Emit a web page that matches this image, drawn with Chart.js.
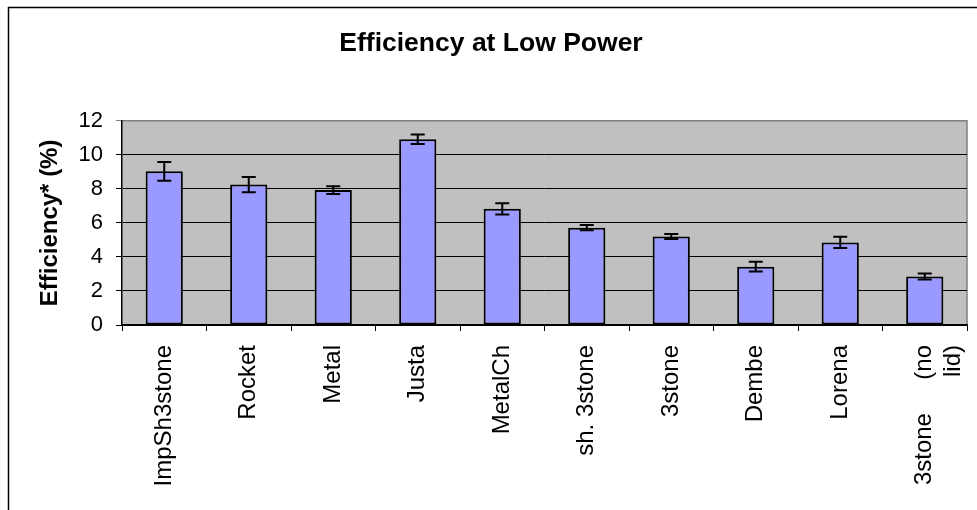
<!DOCTYPE html>
<html>
<head>
<meta charset="utf-8">
<script src="https://cdn.jsdelivr.net/npm/chart.js@4.4.0/dist/chart.umd.min.js"></script>
<style>
    html, body { margin: 0; padding: 0; background: #fff; }
    #wrap { width: 977px; height: 510px; }
</style>
</head>
<body>
<div id="wrap"><canvas id="chart" width="977" height="510"></canvas></div>
<script>
const stoves = ["ImpSh3stone", "Rocket", "Metal", "Justa", "MetalCh", "sh. 3stone", "3stone", "Dembe", "Lorena", ["3stone     (no", "lid)"]];
const efficiency = [9.03, 8.25, 7.93, 10.92, 6.83, 5.72, 5.2, 3.43, 4.85, 2.85];
const errors = [0.55, 0.45, 0.23, 0.28, 0.33, 0.15, 0.15, 0.28, 0.33, 0.17];
const yTicks = [0, 2, 4, 6, 8, 10, 12];

const FONT = "'Liberation Sans', Arial, sans-serif";

// grey plot area + outer frame
const frame = {
    id: "frame",
    beforeDraw(chart) {
        const { ctx, chartArea: a } = chart;
        ctx.save();
        ctx.fillStyle = "#c0c0c0";
        ctx.fillRect(a.left, a.top, a.right - a.left, a.bottom - a.top);
        ctx.strokeStyle = "#808080";
        ctx.lineWidth = 1.5;
        ctx.beginPath();
        ctx.moveTo(a.left, a.top);
        ctx.lineTo(a.right, a.top);
        ctx.lineTo(a.right, a.bottom);
        ctx.stroke();
        ctx.restore();
    },
    afterDraw(chart) {
        const ctx = chart.ctx;
        ctx.save();
        ctx.strokeStyle = "#000";
        ctx.lineWidth = 1.5;
        ctx.strokeRect(8.5, 7.5, 1100, 700);
        ctx.restore();
    }
};

// error bars
const errorBars = {
    id: "errorBars",
    afterDatasetsDraw(chart) {
        const { ctx, scales: { y } } = chart;
        const meta = chart.getDatasetMeta(0);
        ctx.save();
        ctx.strokeStyle = "#000";
        ctx.lineWidth = 2;
        meta.data.forEach((bar, i) => {
            const hi = y.getPixelForValue(efficiency[i] + errors[i]);
            const lo = y.getPixelForValue(efficiency[i] - errors[i]);
            const x = bar.x;
            ctx.beginPath();
            ctx.moveTo(x, hi); ctx.lineTo(x, lo);
            ctx.moveTo(x - 7, hi); ctx.lineTo(x + 7, hi);
            ctx.moveTo(x - 7, lo); ctx.lineTo(x + 7, lo);
            ctx.stroke();
        });
        ctx.restore();
    }
};

const ctx = document.querySelector("#chart").getContext("2d");
const chart = new Chart(ctx, {
    type: "bar",
    data: {
        labels: stoves,
        datasets: [{
            data: efficiency,
            backgroundColor: "#9999ff",
            borderColor: "#000",
            borderWidth: 2,
            borderSkipped: false,
            categoryPercentage: 1,
            barPercentage: 0.44,
        }]
    },
    options: {
        responsive: false,
        animation: false,
        layout: { padding: { left: 5, right: 0, top: 0, bottom: 0 } },
        plugins: {
            legend: { display: false },
            tooltip: { enabled: false },
            title: {
                display: true,
                text: "Efficiency at Low Power",
                color: "#000",
                font: { family: FONT, size: 26.5, weight: "bold" },
                padding: { top: 28, bottom: 61 },
            }
        },
        scales: {
            x: {
                afterFit(s) {
                    s.height = 185;
                    s.paddingLeft = 0;
                    s.paddingRight = 10;
                },
                grid: { drawOnChartArea: false, drawTicks: true, tickLength: 6, color: "#000" },
                border: { color: "#000", width: 1.5 },
                ticks: {
                    color: "#000",
                    font: { family: FONT, size: 24 },
                    minRotation: 90,
                    maxRotation: 90,
                    autoSkip: false,
                    padding: 14,
                }
            },
            y: {
                min: 0,
                max: 12,
                afterFit(s) { s.width = 117; },
                afterBuildTicks(s) { s.ticks = yTicks.map(v => ({ value: v })); },
                grid: {
                    color: c => c.tick && c.tick.value === 12 ? "#808080" : "#000",
                    tickLength: 6,
                    lineWidth: 1,
                },
                border: { color: "#000", width: 1.5 },
                ticks: {
                    color: "#000",
                    font: { family: FONT, size: 22 },
                    padding: 13,
                },
                title: {
                    display: true,
                    text: "Efficiency* (%)",
                    color: "#000",
                    font: { family: FONT, size: 24, weight: "bold" },
                    padding: { top: 31, bottom: 0 },
                }
            }
        }
    },
    plugins: [frame, errorBars]
});
</script>
</body>
</html>
